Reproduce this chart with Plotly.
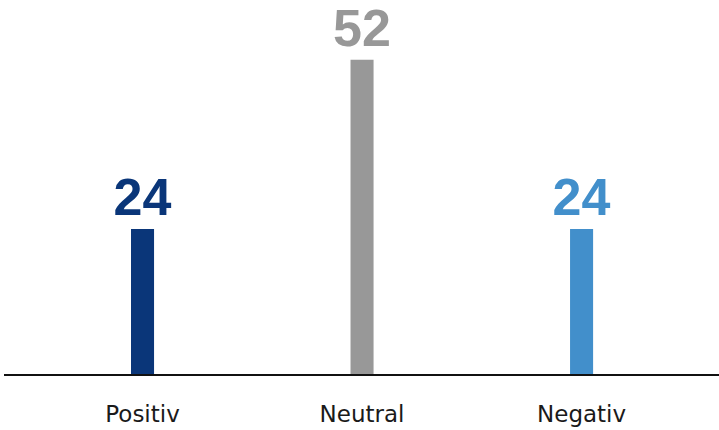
import plotly.graph_objects as go

categories = ["Positiv", "Neutral", "Negativ"]
values = [24, 52, 24]
colors = ["#0a3679", "#989898", "#428fcb"]

fig = go.Figure(
    go.Bar(
        x=categories,
        y=values,
        width=0.105,
        marker=dict(color=colors, line=dict(width=0)),
        text=[str(v) for v in values],
        textposition="outside",
        constraintext="none",
        textfont=dict(family="Liberation Sans", size=52, color=colors, weight="bold"),
        cliponaxis=False,
        hoverinfo="skip",
    )
)

fig.update_layout(
    width=719,
    height=430,
    margin=dict(l=4, r=0, t=20, b=56),
    paper_bgcolor="white",
    plot_bgcolor="white",
    showlegend=False,
    xaxis=dict(
        range=[-0.631, 2.626],
        showline=True,
        linecolor="#111111",
        linewidth=2,
        showgrid=False,
        zeroline=False,
        ticks="outside",
        ticklen=18,
        tickcolor="rgba(0,0,0,0)",
        tickfont=dict(family="DejaVu Sans", size=23, color="#1a1a1a"),
    ),
    yaxis=dict(
        range=[0, 58.6],
        visible=False,
        showgrid=False,
        zeroline=False,
    ),
)

fig.write_html("out.html")
